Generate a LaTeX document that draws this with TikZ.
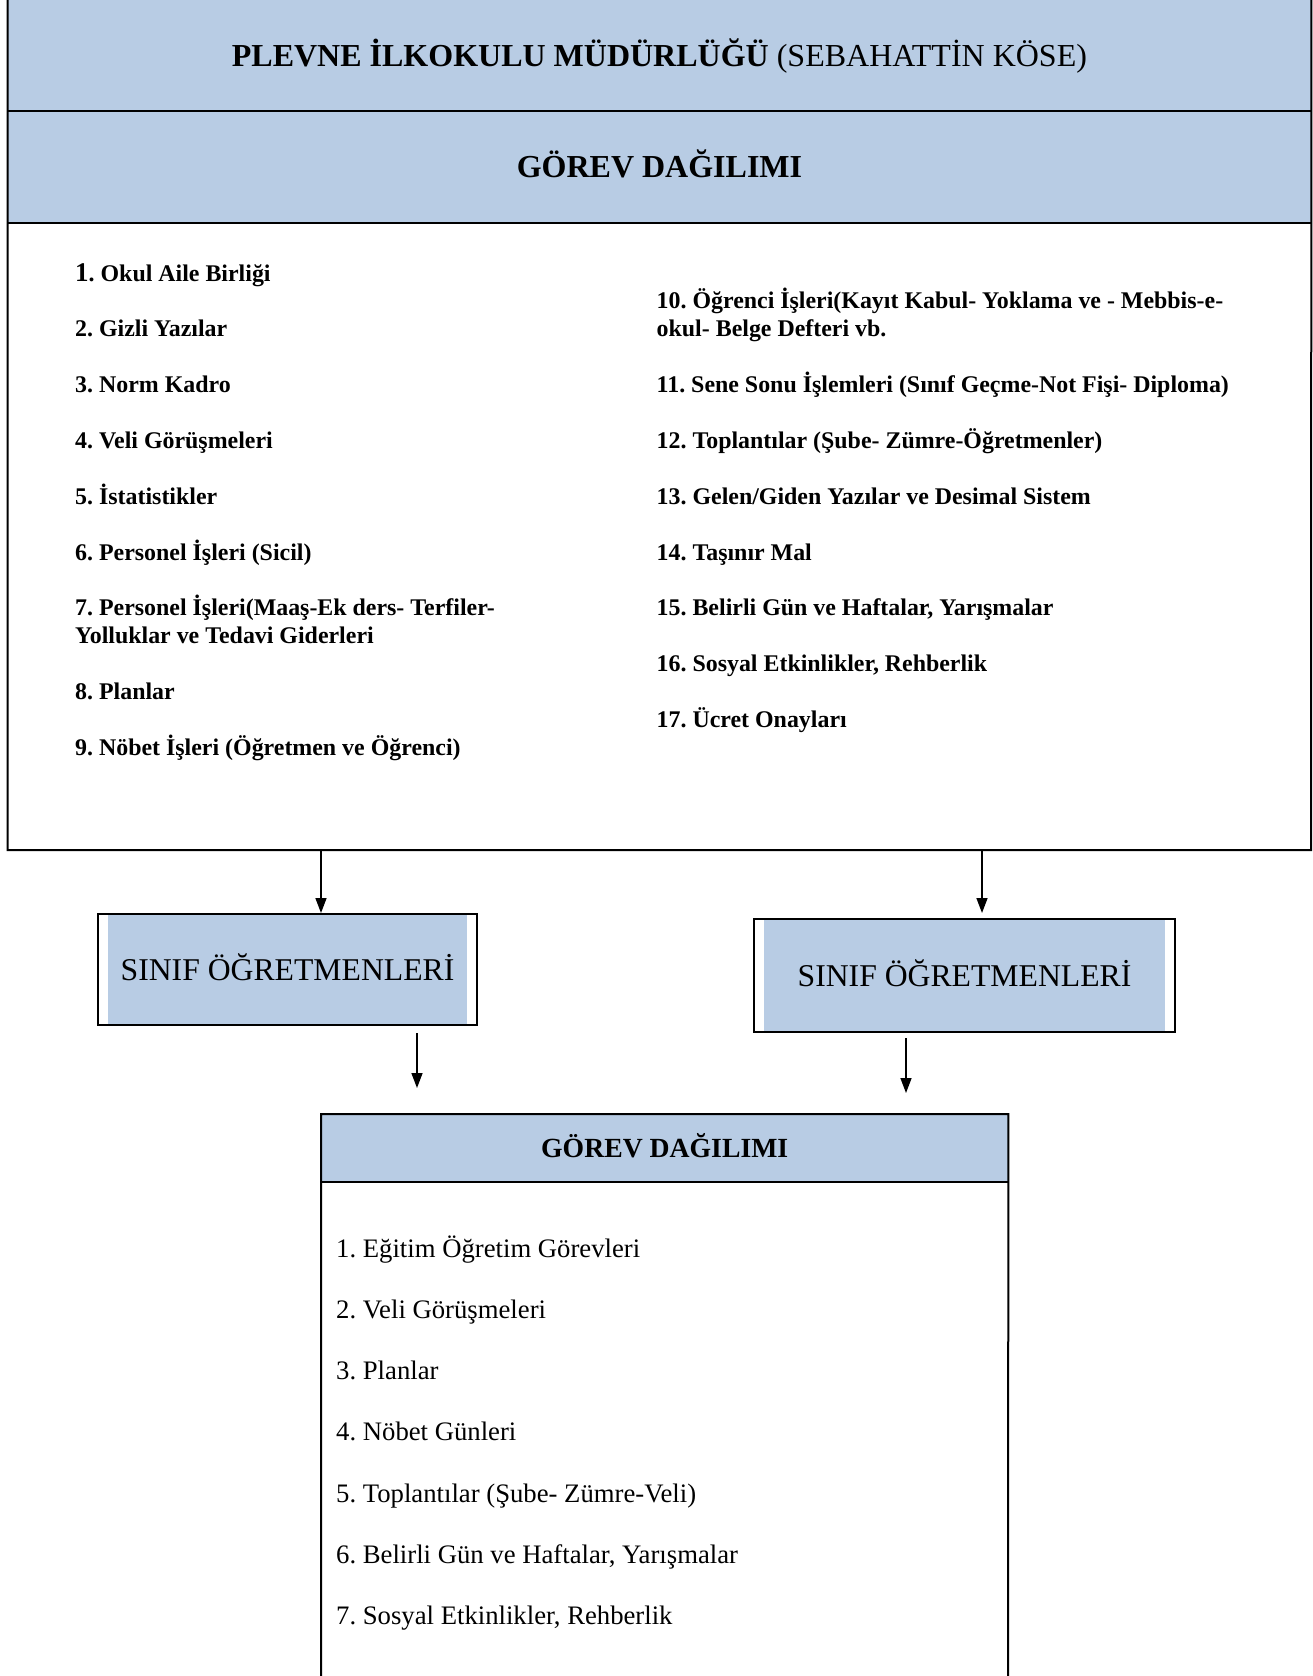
\documentclass[tikz,border=0pt]{standalone}
\usepackage{fontspec}
\setmainfont{Liberation Serif}
\usetikzlibrary{arrows.meta}
\definecolor{hdrblue}{RGB}{184,204,228}
\frenchspacing
\tikzset{
  frame/.style={draw=black,line width=2pt},                   % box outline
  band/.style={fill=hdrblue,inner sep=0pt,text height=21pt,text depth=0pt},
  itemb/.style={anchor=base west,inner sep=0pt,font=\fontsize{23.9}{28}\bfseries\selectfont},
  itemr/.style={anchor=base west,inner sep=0pt,font=\fontsize{26.7}{30}\selectfont},
  sbox/.style={draw=black,line width=2pt,inner sep=0pt,text height=21pt,text depth=0pt,
    font=\fontsize{31.7}{36}\selectfont,
    path picture={\fill[hdrblue] ([xshift=10pt]path picture bounding box.south west)
      rectangle ([xshift=-10pt]path picture bounding box.north east);}},
  arr/.style={-{Triangle[length=15pt,width=11pt]},line width=1.5pt},
}

\begin{document}
\begin{tikzpicture}[x=1pt,y=-1pt]
  \useasboundingbox (0,0) rectangle (1313,1676);
  % top box
  \node[band,minimum width=1303.5pt,minimum height=111pt,anchor=north west,
    font=\fontsize{32}{38}\selectfont] (title) at (7.5,0)
    {\textbf{PLEVNE İLKOKULU MÜDÜRLÜĞÜ} (SEBAHATTİN KÖSE)};
  \node[band,minimum width=1303.5pt,minimum height=111pt,anchor=north west,
    font=\fontsize{32}{38}\bfseries\selectfont] (gorev) at (title.south west)
    {GÖREV DAĞILIMI};
  \draw[frame] (title.north west) -- (7.5,850) -- (1311,850) -- (title.north east);
  \draw[frame] (title.south west) -- (title.south east);
  \draw[frame] (gorev.south west) -- (gorev.south east);
  % left column
  \foreach \n/\t in {0/{{\fontsize{27}{27}\selectfont 1}. Okul Aile Birliği},
      2/2. Gizli Yazılar, 4/3. Norm Kadro, 6/4. Veli Görüşmeleri,
      8/5. İstatistikler, 10/6. Personel İşleri (Sicil),
      12/7. Personel İşleri(Maaş-Ek ders- Terfiler-,
      13/Yolluklar ve Tedavi Giderleri, 15/8. Planlar,
      17/9. Nöbet İşleri (Öğretmen ve Öğrenci)}
    \node[itemb] (l\n) at (75,{281+\n*27.9}) {\t};
  % right column
  \foreach \n/\t in {1/10. Öğrenci İşleri(Kayıt Kabul- Yoklama ve - Mebbis-e-,
      2/okul- Belge Defteri vb.,
      4/11. Sene Sonu İşlemleri (Sınıf Geçme-Not Fişi- Diploma),
      6/12. Toplantılar (Şube- Zümre-Öğretmenler),
      8/{13. Gelen/Giden Yazılar ve Desimal Sistem}, 10/14. Taşınır Mal,
      12/{15. Belirli Gün ve Haftalar, Yarışmalar},
      14/{16. Sosyal Etkinlikler, Rehberlik}, 16/17. Ücret Onayları}
    \node[itemb] (r\n) at (656.5,{281+\n*27.9}) {\t};
  % teacher boxes
  \node[sbox,minimum width=379pt,minimum height=111pt] (sinL) at (287.5,969.5) {SINIF ÖĞRETMENLERİ};
  \node[sbox,minimum width=421pt,minimum height=113pt] (sinR) at (964.5,975.5) {SINIF ÖĞRETMENLERİ};
  \coordinate (a1) at (321,850);
  \coordinate (a2) at (982,850);
  \draw[arr] (a1) -- (a1 |- sinL.north);
  \draw[arr,shorten >=5pt] (a2) -- (a2 |- sinR.north);
  \coordinate (d1) at (417,1088);
  \coordinate (d2) at (906,1093);
  \draw[arr,shorten <=7pt] (sinL.south -| d1) -- (d1);
  \draw[arr,shorten <=5pt] (sinR.south -| d2) -- (d2);
  % bottom box
  \node[band,minimum width=687pt,minimum height=68pt,anchor=north west,text height=18.3pt,
    font=\fontsize{27.7}{32}\bfseries\selectfont] (gorev2) at (321,1114) {GÖREV DAĞILIMI};
  \draw[frame] (321,1676) -- (gorev2.north west) -- (gorev2.north east) -- (1008,1676);
  \draw[frame] (gorev2.south west) -- (gorev2.south east);
  \foreach \n/\t in {0/1. Eğitim Öğretim Görevleri, 1/2. Veli Görüşmeleri,
      2/3. Planlar, 3/4. Nöbet Günleri, 4/5. Toplantılar (Şube- Zümre-Veli),
      5/{6. Belirli Gün ve Haftalar, Yarışmalar}, 6/{7. Sosyal Etkinlikler, Rehberlik}}
    \node[itemr] (t\n) at (336,{1257+\n*61.3}) {\t};
\end{tikzpicture}
\end{document}
